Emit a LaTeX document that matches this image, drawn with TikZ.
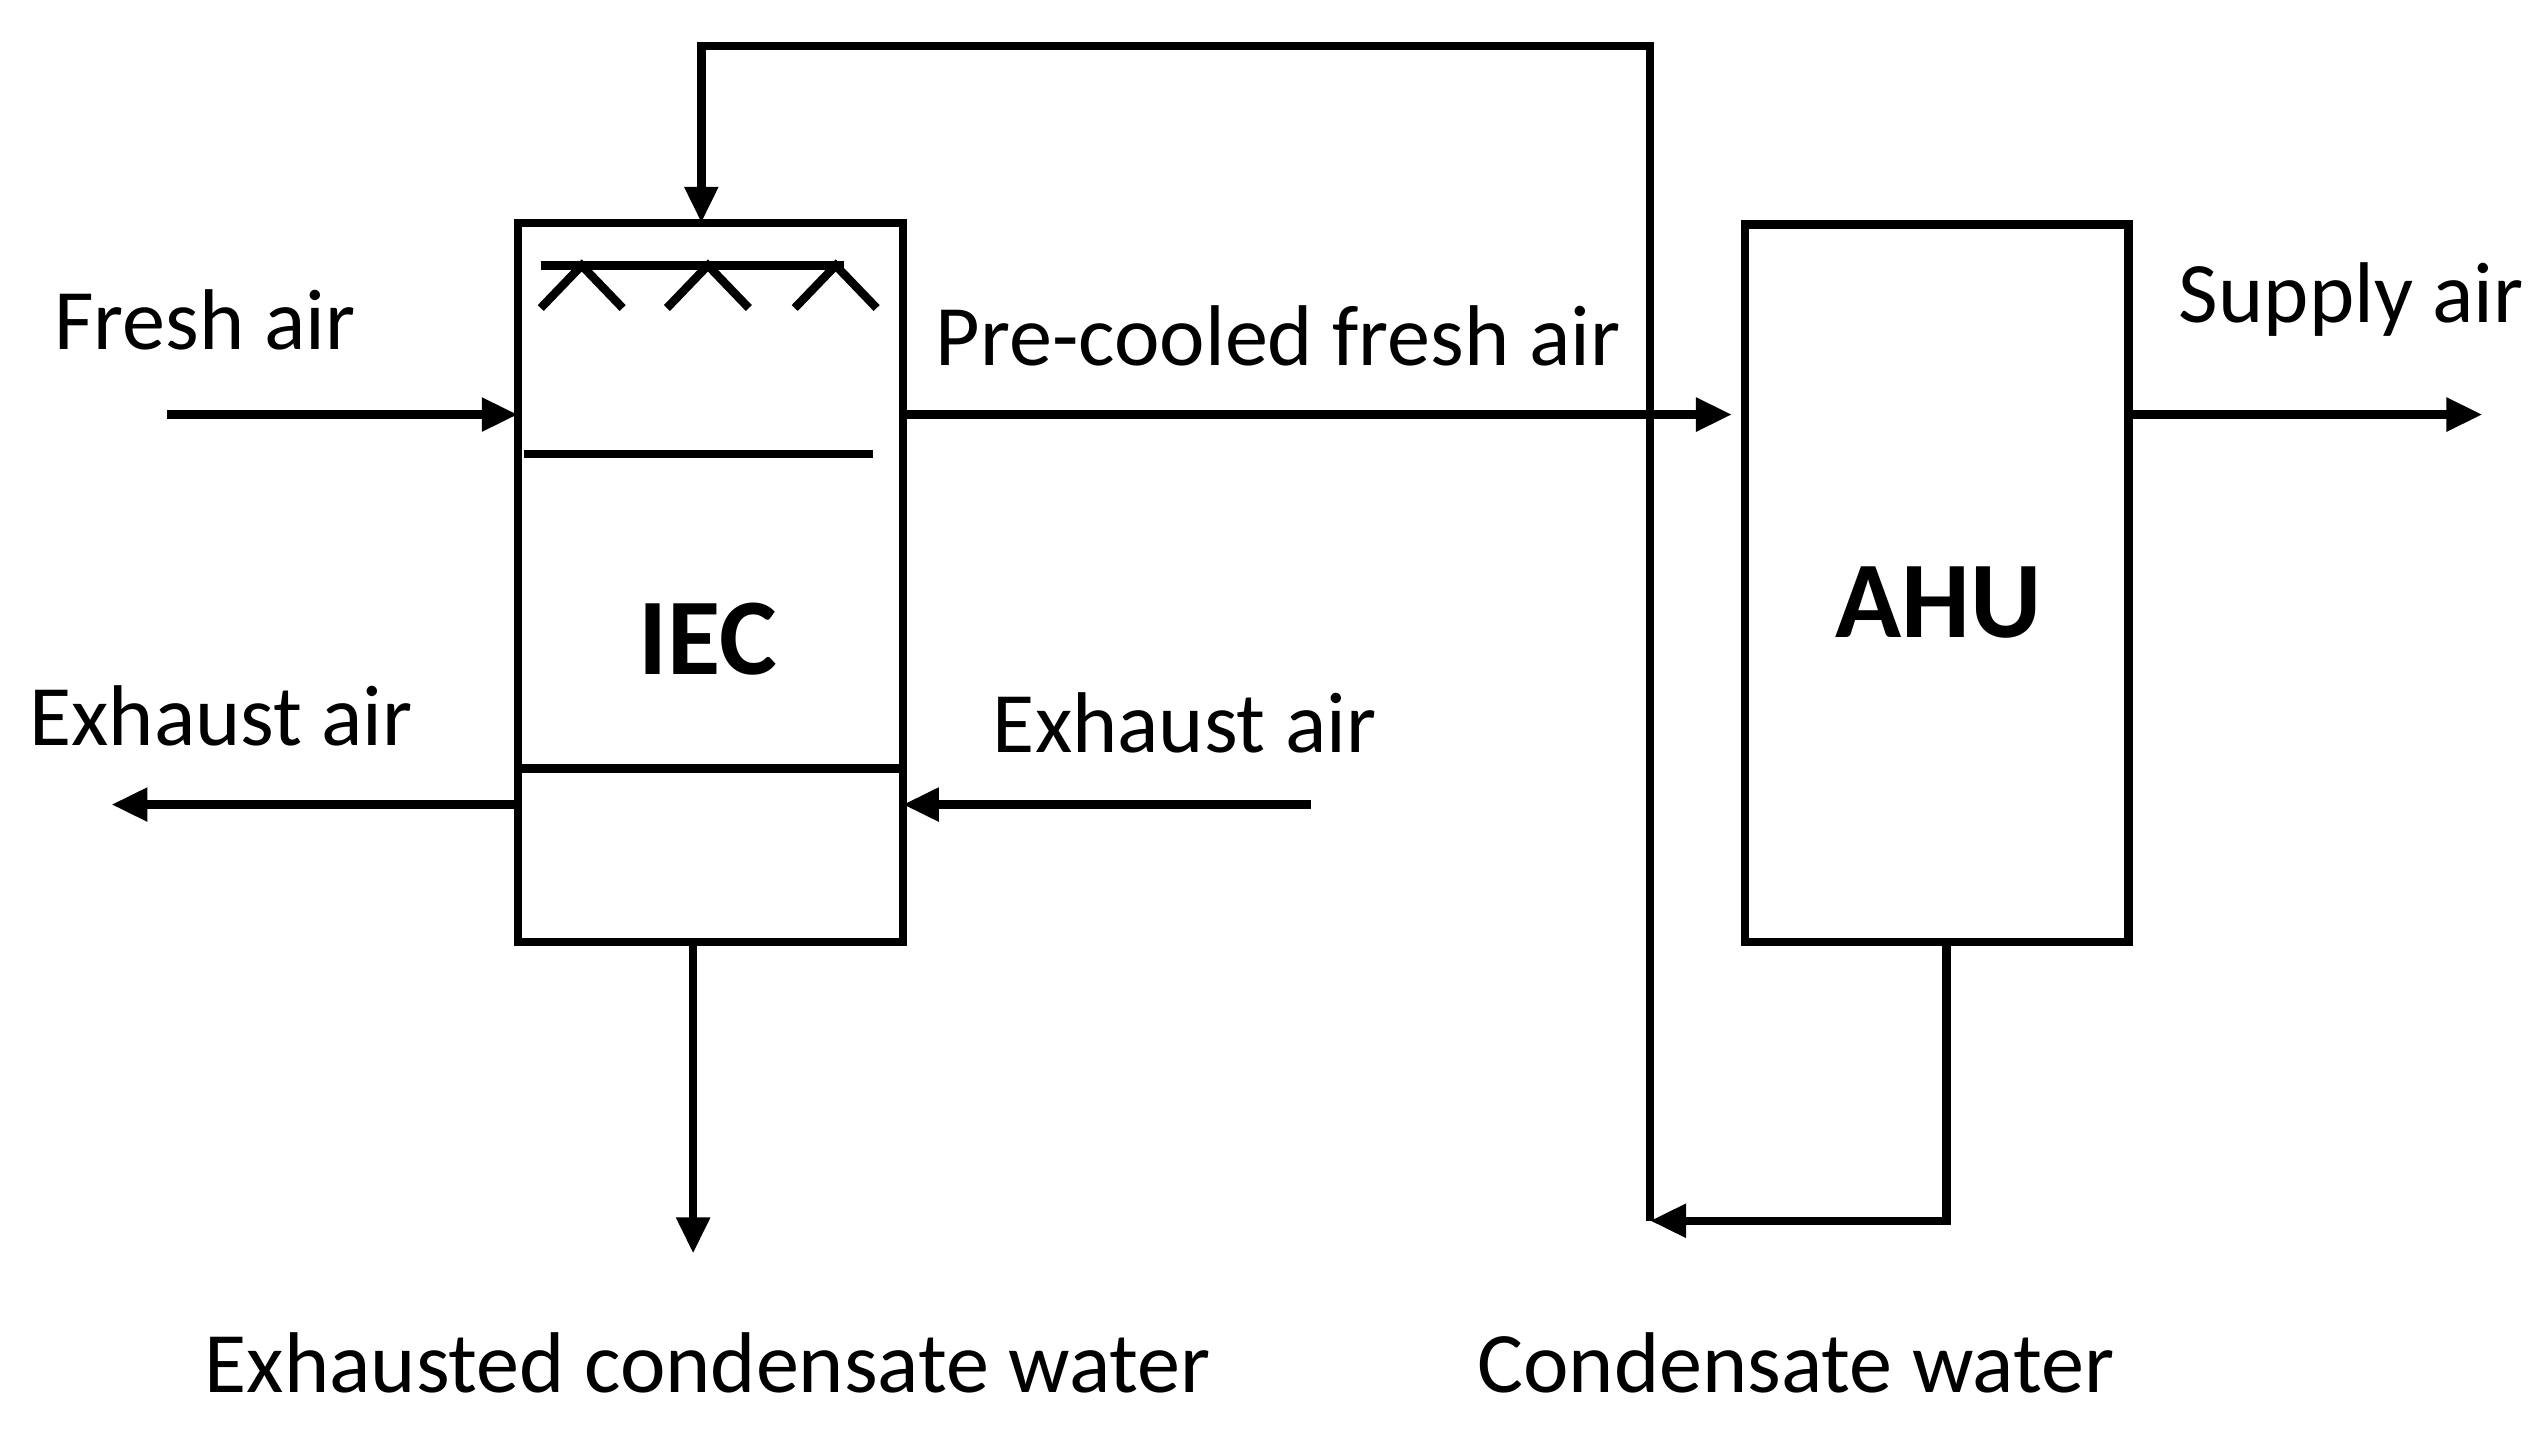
\documentclass[tikz,border=0pt]{standalone}
\usepackage{fontspec}
\setmainfont{Carlito}
\usetikzlibrary{arrows.meta}
\tikzset{
    %Define standard arrow tip
    >={Triangle[length=0.36cm,width=0.32cm]},
    %Define style for boxes
    unitbox/.style={draw=black, line width=2.4pt},
    % Define line styles
    pipe/.style={line width=2.4pt},
    flow/.style={->, line width=2.4pt},
    lbl/.style={font=\fontsize{24.5}{28}\selectfont},
    unitlbl/.style={font=\fontsize{31}{35}\selectfont\bfseries}
}
\begin{document}
\begin{tikzpicture}[x=0.01638cm, y=-0.01638cm]
 \useasboundingbox (0,0) rectangle (1555,872);
 % boxes
 \draw[unitbox] (316,136) rectangle (551,575);
 \draw[unitbox] (1065,137) rectangle (1299,575);
 \node[unitlbl] (iec) at (432,390) {IEC};
 \node[unitlbl] (ahu) at (1183,368) {AHU};
 \draw[pipe] (320,277) -- (533,277);
 \draw[pipe] (316,469) -- (551,469);
 % spray
 \draw[pipe] (330,162) -- (515,162);
 \foreach \x in {355,432,510}
   \draw[pipe] (\x-25,188) -- (\x,162) -- (\x+25,188);
 % coordinates
 \coordinate (fin) at (102,253);
 \coordinate (iecin) at (316,253);
 \coordinate (iecout) at (551,253);
 \coordinate (ahuin) at (1057,253);
 \coordinate (ahuout) at (1299,253);
 \coordinate (sup) at (1515,253);
 \coordinate (exl) at (68,491);
 \coordinate (exlb) at (316,491);
 \coordinate (exr) at (800,491);
 \coordinate (exrb) at (551,491);
 \coordinate (iecbot) at (423,575);
 \coordinate (drain) at (423,765);
 \coordinate (ahubot) at (1188,575);
 \coordinate (ret) at (1007,745);
 \coordinate (iectop) at (428,136);
 % flows
 \draw[flow] (fin) -- (iecin);
 \draw[flow] (iecout) -- (ahuin);
 \draw[flow] (ahuout) -- (sup);
 \draw[flow] (exlb) -- (exl);
 \draw[flow] (exr) -- (exrb);
 \draw[flow] (iecbot) -- (drain);
 \draw[flow] (ahubot) |- (ret);
 \draw[flow] (ret) -- (1007,28) -| (iectop);
 % labels
 \node[lbl] (l1) at (125,195) {Fresh air};
 \node[lbl] (l2) at (780,205) {Pre-cooled fresh air};
 \node[lbl] (l3) at (1435,183) {Supply air};
 \node[lbl] (l4) at (135,437) {Exhaust air};
 \node[lbl] (l5) at (723,441) {Exhaust air};
 \node[lbl] (l6) at (432,832) {Exhausted condensate water};
 \node[lbl] (l7) at (1096,832) {Condensate water};
\end{tikzpicture}
\end{document}
